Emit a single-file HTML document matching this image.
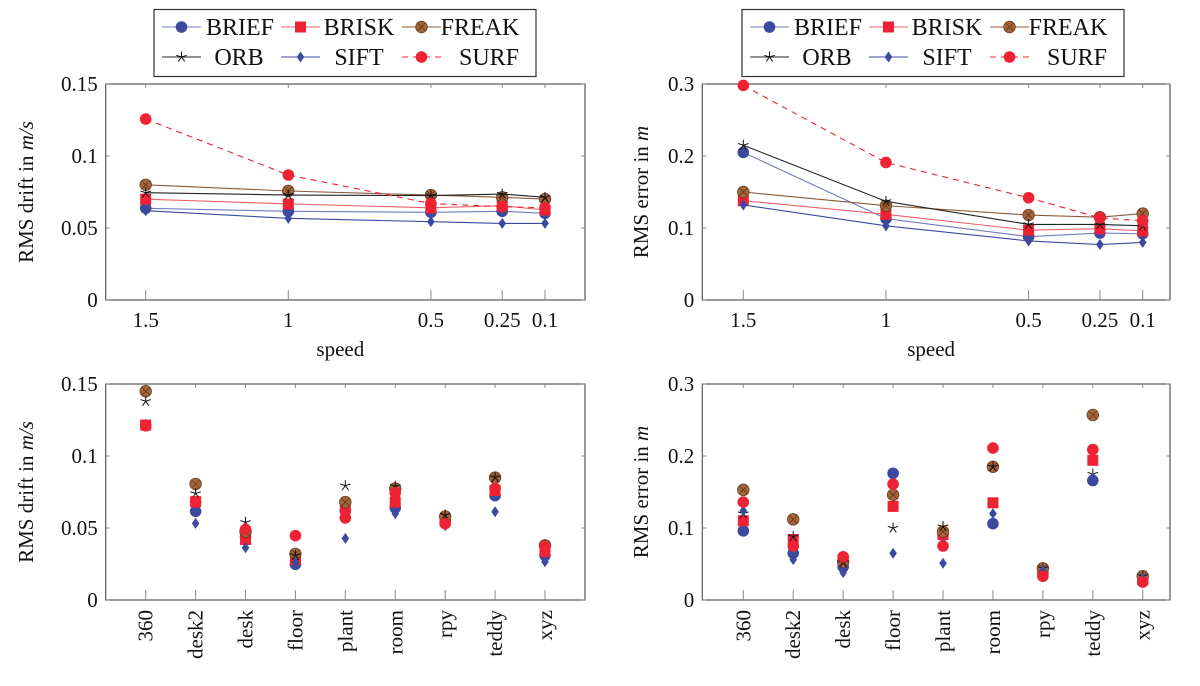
<!DOCTYPE html>
<html><head><meta charset="utf-8"><style>
html,body{margin:0;padding:0;background:#fff;}
svg{display:block;font-family:"Liberation Serif",serif;}
</style></head>
<body>
<svg id="fig" width="1200" height="686" viewBox="0 0 1200 686"></svg>
<script>
const methods = ["BRIEF","BRISK","FREAK","ORB","SIFT","SURF"];
const speedCats = [1.5, 1, 0.5, 0.25, 0.1];
const speedTickLabels = ["1.5","1","0.5","0.25","0.1"];
const seqCats = ["360","desk2","desk","floor","plant","room","rpy","teddy","xyz"];
const driftTicks = [0, 0.05, 0.1, 0.15];
const driftTickLabels = ["0","0.05","0.1","0.15"];
const errTicks = [0, 0.1, 0.2, 0.3];
const errTickLabels = ["0","0.1","0.2","0.3"];

// top-left: RMS drift vs speed
const driftSpeedBRIEF = [0.0637,0.0616,0.0609,0.0616,0.0602];
const driftSpeedBRISK = [0.070,0.0667,0.064,0.0655,0.0625];
const driftSpeedFREAK = [0.080,0.0757,0.0729,0.0713,0.0701];
const driftSpeedORB   = [0.0745,0.0729,0.0725,0.0736,0.0713];
const driftSpeedSIFT  = [0.062,0.0567,0.0544,0.0532,0.0532];
const driftSpeedSURF  = [0.1257,0.0868,0.067,0.0648,0.064];
// top-right: RMS error vs speed
const errSpeedBRIEF = [0.205,0.113,0.088,0.093,0.092];
const errSpeedBRISK = [0.138,0.119,0.097,0.099,0.096];
const errSpeedFREAK = [0.150,0.131,0.118,0.115,0.120];
const errSpeedORB   = [0.215,0.137,0.105,0.105,0.103];
const errSpeedSIFT  = [0.132,0.103,0.082,0.077,0.080];
const errSpeedSURF  = [0.298,0.191,0.142,0.114,0.110];
// bottom-left: RMS drift per sequence
const driftSeqBRIEF = [0.121,0.0616,0.044,0.0248,0.062,0.064,0.0544,0.0725,0.031];
const driftSeqBRISK = [0.1215,0.0683,0.042,0.028,0.0637,0.068,0.055,0.076,0.0336];
const driftSeqFREAK = [0.145,0.0806,0.0475,0.032,0.068,0.0775,0.058,0.085,0.038];
const driftSeqORB   = [0.138,0.074,0.054,0.031,0.0794,0.079,0.059,0.085,0.0377];
const driftSeqSIFT  = [0.122,0.0532,0.0363,0.026,0.0428,0.060,0.0516,0.0613,0.0266];
const driftSeqSURF  = [0.121,0.068,0.049,0.0447,0.057,0.0745,0.053,0.0775,0.037];
// bottom-right: RMS error per sequence
const errSeqBRIEF = [0.096,0.065,0.046,0.176,0.09,0.106,0.037,0.166,0.027];
const errSeqBRISK = [0.110,0.084,0.056,0.130,0.091,0.135,0.038,0.194,0.028];
const errSeqFREAK = [0.153,0.112,0.053,0.146,0.095,0.185,0.044,0.257,0.033];
const errSeqORB   = [0.12,0.088,0.052,0.100,0.102,0.185,0.044,0.175,0.033];
const errSeqSIFT  = [0.124,0.056,0.038,0.065,0.051,0.120,0.041,0.17,0.030];
const errSeqSURF  = [0.136,0.075,0.060,0.161,0.075,0.211,0.033,0.209,0.025];

const NS = "http://www.w3.org/2000/svg";
const svg = document.getElementById("fig");
function mk(tag, attrs, parent){ const e=document.createElementNS(NS,tag); for(const k in attrs) e.setAttribute(k,attrs[k]); (parent||svg).appendChild(e); return e; }

const styles = {
  BRIEF:{line:"#6f7bc0", fill:"#3b4a9e", marker:"circle", dash:null},
  BRISK:{line:"#f0606a", fill:"#ee2233", marker:"square", dash:null},
  FREAK:{line:"#8b5a3a", fill:"#a5643a", marker:"otimes", dash:null},
  ORB:{line:"#222", fill:"#222", marker:"star", dash:null},
  SIFT:{line:"#3b4a9e", fill:"#3b4a9e", marker:"diamond", dash:null},
  SURF:{line:"#ee2233", fill:"#ee2233", marker:"circle", dash:"6,5"}
};

function marker(g, m, x, y){
  const s = styles[m];
  let e;
  if(s.marker==="circle"){ e=mk("circle",{cx:x,cy:y,r:5.8,fill:s.fill},g); }
  else if(s.marker==="square"){ e=mk("rect",{x:x-5.5,y:y-5.5,width:11,height:11,fill:s.fill},g); }
  else if(s.marker==="diamond"){ e=mk("polygon",{points:`${x},${y-5.5} ${x+3.8},${y} ${x},${y+5.5} ${x-3.8},${y}`,fill:s.fill},g); }
  else if(s.marker==="otimes"){
    e=mk("g",{},g);
    mk("circle",{cx:x,cy:y,r:5.8,fill:s.fill,stroke:"#6b3e22","stroke-width":0.8},e);
    mk("path",{d:`M${x-4},${y-4}L${x+4},${y+4}M${x-4},${y+4}L${x+4},${y-4}`,stroke:"#5a3018","stroke-width":0.7},e);
  } else {
    e=mk("g",{},g);
    let d="";
    for(let i=0;i<5;i++){ const a=-Math.PI/2+i*2*Math.PI/5; d+=`M${x},${y}L${x+5.5*Math.cos(a)},${y+5.5*Math.sin(a)}`; }
    mk("path",{d:d,stroke:"#111","stroke-width":1},e);
  }
  return e;
}

function panel(opts){
  const {x0,x1,y0,y1,ymax,ticks,tickLabels,xpos,xlabels,rotLabels,series,lines,title,titleX,xTitle,name} = opts;
  const g = mk("g",{});
  
  
  const sy = v => y1 - (v/ymax)*(y1-y0);
  // box
  const box = mk("rect",{x:x0,y:y0,width:x1-x0,height:y1-y0,fill:"none",stroke:"#555","stroke-width":1.2},g);
  
  
  // y ticks
  ticks.forEach((t,i)=>{
    const y=sy(t);
    mk("line",{x1:x0,y1:y,x2:x0+4,y2:y,stroke:"#888"},g);
    mk("line",{x1:x1,y1:y,x2:x1-4,y2:y,stroke:"#888"},g);
    const tl = mk("text",{x:x0-8,y:y+7,"text-anchor":"end","font-size":21,fill:"#111"},g);
    tl.textContent = tickLabels[i];
    
    
  });
  // x ticks
  xpos.forEach((x,i)=>{
    mk("line",{x1:x,y1:y0,x2:x,y2:y0+4,stroke:"#888"},g);
    mk("line",{x1:x,y1:y1,x2:x,y2:y1-10,stroke:"#888"},g);
    let tl;
    if(rotLabels){
      tl = mk("text",{x:0,y:0,"text-anchor":"end","font-size":21,fill:"#111",transform:`translate(${x+7},${y1+10}) rotate(-90)`},g);
    } else {
      tl = mk("text",{x:x,y:y1+27,"text-anchor":"middle","font-size":21,fill:"#111"},g);
    }
    tl.textContent = xlabels[i];
    
    
  });
  // y title
  const yt = mk("text",{x:0,y:0,"text-anchor":"middle","font-size":21,fill:"#111",transform:`translate(${titleX},${(y0+y1)/2}) rotate(-90)`},g);
  yt.innerHTML = title;
  
  
  if(xTitle){
    const xt = mk("text",{x:(x0+x1)/2-5,y:y1+56,"text-anchor":"middle","font-size":21,fill:"#111"},g);
    xt.textContent = xTitle;
    
    
  }
  methods.forEach(m=>{
    const vals = series[m];
    const sg = mk("g",{},g);
    
    
    if(lines){
      const pts = vals.map((v,i)=>`${xpos[i]},${sy(v)}`).join(" ");
      const a = {points:pts,fill:"none",stroke:styles[m].line,"stroke-width":1.1};
      if(styles[m].dash) a["stroke-dasharray"]=styles[m].dash;
      mk("polyline",a,sg);
    }
    vals.forEach((v,i)=>{
      const e = marker(sg,m,xpos[i],sy(v));
      
      
    });
  });
}

function speedX(x15,x01){ return v => x15 + (1.5-v)*(x01-x15)/1.4; }
function seqX(xa, step){ return i => xa + i*step; }

const sxL = speedX(145.7,545), sxR = speedX(743.3,1142.7);
panel({name:"chart-drift-speed",x0:105.7,x1:585,y0:84,y1:300,ymax:0.15,ticks:driftTicks,tickLabels:driftTickLabels,
  xpos:speedCats.map(sxL),xlabels:speedTickLabels,rotLabels:false,lines:true,
  series:{BRIEF:driftSpeedBRIEF,BRISK:driftSpeedBRISK,FREAK:driftSpeedFREAK,ORB:driftSpeedORB,SIFT:driftSpeedSIFT,SURF:driftSpeedSURF},
  title:'RMS drift in <tspan font-style="italic">m/s</tspan>',titleX:33,xTitle:"speed"});
panel({name:"chart-error-speed",x0:702.3,x1:1170,y0:84,y1:300,ymax:0.3,ticks:errTicks,tickLabels:errTickLabels,
  xpos:speedCats.map(sxR),xlabels:speedTickLabels,rotLabels:false,lines:true,
  series:{BRIEF:errSpeedBRIEF,BRISK:errSpeedBRISK,FREAK:errSpeedFREAK,ORB:errSpeedORB,SIFT:errSpeedSIFT,SURF:errSpeedSURF},
  title:'RMS error in <tspan font-style="italic">m</tspan>',titleX:648,xTitle:"speed"});
const qL = seqX(145.7,49.91), qR = seqX(743.3,49.93);
panel({name:"chart-drift-sequence",x0:105.7,x1:585,y0:384,y1:600,ymax:0.15,ticks:driftTicks,tickLabels:driftTickLabels,
  xpos:seqCats.map((c,i)=>qL(i)),xlabels:seqCats,rotLabels:true,lines:false,
  series:{BRIEF:driftSeqBRIEF,BRISK:driftSeqBRISK,FREAK:driftSeqFREAK,ORB:driftSeqORB,SIFT:driftSeqSIFT,SURF:driftSeqSURF},
  title:'RMS drift in <tspan font-style="italic">m/s</tspan>',titleX:33,xTitle:null});
panel({name:"chart-error-sequence",x0:702.3,x1:1170,y0:384,y1:600,ymax:0.3,ticks:errTicks,tickLabels:errTickLabels,
  xpos:seqCats.map((c,i)=>qR(i)),xlabels:seqCats,rotLabels:true,lines:false,
  series:{BRIEF:errSeqBRIEF,BRISK:errSeqBRISK,FREAK:errSeqFREAK,ORB:errSeqORB,SIFT:errSeqSIFT,SURF:errSeqSURF},
  title:'RMS error in <tspan font-style="italic">m</tspan>',titleX:648,xTitle:null});

function legend(ox, name){
  const g = mk("g",{});
  
  
  mk("rect",{x:ox,y:9.5,width:382,height:67,fill:"#fff",stroke:"#333","stroke-width":1.2},g);
  const cols = [[8,55],[127,172],[248,292]];
  const rowsY = [27,57];
  const textX = [[55,0],[0,0]];
  methods.forEach((m,i)=>{
    const r = Math.floor(i/3), c = i%3;
    const lx = ox + cols[c][0], y = rowsY[r];
    const eg = mk("g",{},g);
    
    
    const a = {x1:lx,y1:y,x2:lx+39,y2:y,stroke:styles[m].line,"stroke-width":1.1};
    if(styles[m].dash) a["stroke-dasharray"]="6,5";
    mk("line",a,eg);
    marker(eg,m,lx+19.5,y);
    const centers = [[86,205,326],[85,205,335]];
    const t = mk("text",{x:ox+centers[r][c],y:y+8,"text-anchor":"middle","font-size":24,fill:"#111"},eg);
    t.textContent = m;
  });
}
legend(154,"legend-left");
legend(742,"legend-right");
</script>
</body></html>
